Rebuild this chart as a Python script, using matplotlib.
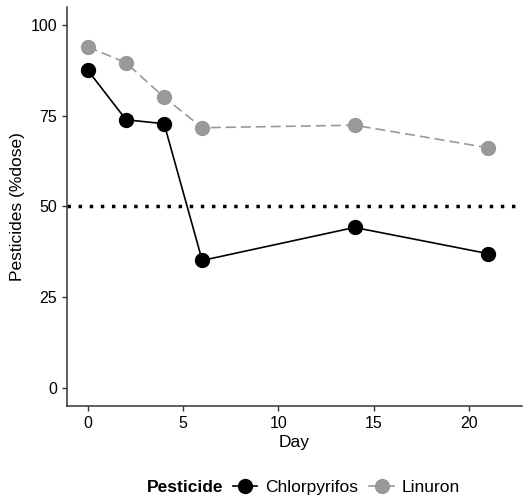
import matplotlib.pyplot as plt
from matplotlib.lines import Line2D

plt.rcParams['font.family'] = ['Liberation Sans', 'DejaVu Sans']

days = [0, 2, 4, 6, 14, 21]
chlorpyrifos = [87.5, 73.9, 72.8, 35.1, 44.2, 37.0]
linuron = [94.0, 89.6, 80.1, 71.7, 72.4, 66.2]
pesticides = ['Chlorpyrifos', 'Linuron']
colors = ['black', '#999999']
styles = ['-', '--']

fig = plt.figure(figsize=(5.31, 4.98), dpi=100)
ax = fig.add_axes([0.1262, 0.185, 0.857, 0.801])

for vals, col, ls in zip([chlorpyrifos, linuron], colors, styles):
    ax.plot(days, vals, color=col, linestyle=ls, linewidth=1.2,
            marker='o', markersize=10, dashes=(6, 3) if ls == '--' else (None, None))

ax.axhline(50, color='black', linestyle=(0, (1, 2.2)), linewidth=2.5)

ax.set_xlim(-1.1, 22.8)
ax.set_ylim(-5, 105)
ax.set_xticks([0, 5, 10, 15, 20])
ax.set_yticks([0, 25, 50, 75, 100])
for s in ['top', 'right']:
    ax.spines[s].set_visible(False)
for s in ['left', 'bottom']:
    ax.spines[s].set_color('#333333')
    ax.spines[s].set_linewidth(1.1)
ax.tick_params(colors='#333333', labelcolor='black', labelsize=11.5, length=3.5, width=1)
ax.set_xlabel('Day', fontsize=12.5, labelpad=3)
ax.set_ylabel('Pesticides (%dose)', fontsize=12.5, labelpad=4)

# legend along the bottom, title to the left of the keys
handles = [Line2D([], [], color=c, linestyle='-', marker='o', markersize=10, linewidth=1.2)
           for c in colors]
fig.legend(handles, pesticides, loc='center left', bbox_to_anchor=(233 / 531, 0.021),
           ncol=2, frameon=False, fontsize=12.5, handlelength=1.4,
           handletextpad=0.45, columnspacing=0.65, borderpad=0, borderaxespad=0)
fig.text(147 / 531, 0.021, 'Pesticide', fontsize=12.5, fontweight='bold', va='center')

fig.savefig('out.png', dpi=100)
